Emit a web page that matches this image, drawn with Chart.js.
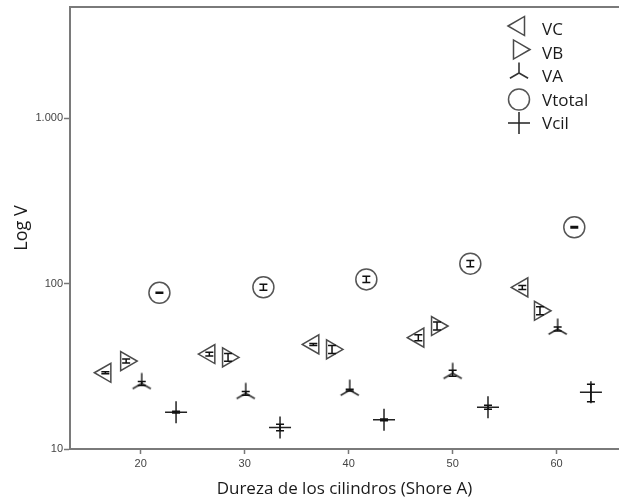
<!DOCTYPE html>
<html>
<head>
<meta charset="utf-8">
<script src="https://cdn.jsdelivr.net/npm/chart.js@4.4.1/dist/chart.umd.min.js"></script>
<style>
  body { margin: 0; background: #fff; }
  #wrap { width: 619px; height: 499px; }
</style>
</head>
<body>
<div id="wrap"><canvas id="chart"></canvas></div>
<script>
// hardness (Shore A) of each group, mean volume and error bar limits
var vcX = [16.6, 26.6, 36.6, 46.7, 56.7];
var vcMean = [28.9, 37.5, 42.9, 47.1, 94.8];
var vcLow = [28.5, 36.5, 42.3, 45.2, 92.2];
var vcHigh = [29.3, 38.5, 43.5, 49.1, 97.5];

var vbX = [18.6, 28.4, 38.4, 48.5, 58.4];
var vbMean = [34.0, 35.8, 40.0, 55.4, 68.5];
var vbLow = [33.1, 33.9, 37.8, 52.4, 64.8];
var vbHigh = [35.0, 37.8, 42.3, 58.6, 72.4];

var vaX = [20.1, 30.1, 40.1, 50.0, 60.1];
var vaMean = [24.9, 21.7, 22.7, 28.7, 53.1];
var vaLow = [24.2, 21.1, 22.4, 27.5, 51.7];
var vaHigh = [25.6, 22.3, 23.0, 29.9, 54.6];

var totalX = [21.8, 31.8, 41.7, 51.7, 61.7];
var totalMean = [88, 95, 106, 132, 219];
var totalLow = [87.4, 91.1, 101.6, 126.6, 217];
var totalHigh = [88.6, 99.1, 110.6, 137.7, 221];

var cilX = [23.4, 33.4, 43.4, 53.4, 63.3];
var cilMean = [16.7, 13.5, 15.0, 17.9, 22.0];
var cilLow = [16.5, 12.9, 14.8, 17.4, 19.3];
var cilHigh = [16.9, 14.1, 15.2, 18.4, 24.6];

var xTicks = [20, 30, 40, 50, 60];
var yTicks = [10, 100, 1000];

// upside-down "Y" marker used for VA
function makeTripod(size) {
  var c = document.createElement('canvas');
  c.width = size;
  c.height = size;
  var g = c.getContext('2d');
  var m = size / 2, r = size / 2 - 1.5;
  g.strokeStyle = '#333';
  g.lineWidth = 1.6;
  g.beginPath();
  g.moveTo(m, m); g.lineTo(m, m - r);
  g.moveTo(m, m); g.lineTo(m - r * 0.866, m + r * 0.5);
  g.moveTo(m, m); g.lineTo(m + r * 0.866, m + r * 0.5);
  g.stroke();
  return c;
}
var tripod = makeTripod(24);

function points(xs, ys) {
  return xs.map(function(x, i) { return { x: x, y: ys[i] }; });
}

function series(label, xs, mean, low, high, style) {
  return Object.assign({
    label: label,
    data: points(xs, mean),
    errLow: low,
    errHigh: high,
    pointRadius: 11,
    pointBorderWidth: 1.5,
    pointBorderColor: '#4a4a4a',
    pointBackgroundColor: 'rgba(255,255,255,0)',
    pointRotation: 0
  }, style);
}

var datasets = [
  series('VC', vcX, vcMean, vcLow, vcHigh, { pointStyle: 'triangle', pointRotation: -90 }),
  series('VB', vbX, vbMean, vbLow, vbHigh, { pointStyle: 'triangle', pointRotation: 90 }),
  series('VA', vaX, vaMean, vaLow, vaHigh, { pointStyle: tripod }),
  series('Vtotal', totalX, totalMean, totalLow, totalHigh, { pointStyle: 'circle', pointRadius: 10.5, pointBorderColor: '#555' }),
  series('Vcil', cilX, cilMean, cilLow, cilHigh, { pointStyle: 'cross', pointBorderColor: '#222' })
];

// vertical error bars with small caps, drawn on top of the markers
var errorBars = {
  id: 'errorBars',
  afterDatasetsDraw: function(chart) {
    var ctx = chart.ctx;
    var yScale = chart.scales.y;
    ctx.save();
    ctx.strokeStyle = '#111';
    ctx.lineWidth = 1.5;
    chart.data.datasets.forEach(function(ds, di) {
      var meta = chart.getDatasetMeta(di);
      meta.data.forEach(function(pt, i) {
        var yl = yScale.getPixelForValue(ds.errLow[i]);
        var yh = yScale.getPixelForValue(ds.errHigh[i]);
        ctx.beginPath();
        ctx.moveTo(pt.x, yl); ctx.lineTo(pt.x, yh);
        ctx.moveTo(pt.x - 4, yl); ctx.lineTo(pt.x + 4, yl);
        ctx.moveTo(pt.x - 4, yh); ctx.lineTo(pt.x + 4, yh);
        ctx.stroke();
      });
    });
    ctx.restore();
  }
};

// top frame line and the marker legend in the upper right corner
var frameAndLegend = {
  id: 'frameAndLegend',
  afterDraw: function(chart) {
    var ctx = chart.ctx;
    var area = chart.chartArea;
    ctx.save();
    ctx.strokeStyle = '#7a7a7a';
    ctx.lineWidth = 2;
    ctx.beginPath();
    ctx.moveTo(area.left, area.top);
    ctx.lineTo(area.right, area.top);
    ctx.stroke();

    var lx = area.right - 100;
    ctx.font = '17px "Open Sans"';
    ctx.textBaseline = 'alphabetic';
    ctx.textAlign = 'left';
    chart.data.datasets.forEach(function(ds, i) {
      var ty = area.top + 22 + i * 23.5;
      var sy = i < 3 ? ty - 3 : ty;
      ctx.strokeStyle = ds.pointBorderColor;
      ctx.fillStyle = 'rgba(255,255,255,0)';
      ctx.lineWidth = ds.pointBorderWidth;
      Chart.helpers.drawPoint(ctx, {
        pointStyle: ds.pointStyle,
        rotation: ds.pointRotation,
        radius: ds.pointRadius,
        borderWidth: ds.pointBorderWidth
      }, lx, sy);
      ctx.fillStyle = '#1a1a1a';
      ctx.fillText(ds.label, lx + 23, ty + 6);
    });
    ctx.restore();
  }
};

function thousands(v) {
  return String(v).replace(/\B(?=(\d{3})+(?!\d))/g, '.');
}

// keep the plot frame flush with the layout padding
function noEdgePadding(s) {
  s.paddingTop = 0;
  s.paddingBottom = 0;
  s.paddingLeft = 0;
  s.paddingRight = 0;
}

new Chart(document.getElementById('chart'), {
  type: 'scatter',
  data: { datasets: datasets },
  options: {
    responsive: true,
    maintainAspectRatio: false,
    animation: false,
    layout: { autoPadding: false, padding: { top: 7, right: 0, left: 0, bottom: 0 } },
    plugins: { legend: { display: false }, tooltip: { enabled: false } },
    scales: {
      x: {
        type: 'linear',
        min: 13.2,
        max: 66,
        afterBuildTicks: function(s) { s.ticks = xTicks.map(function(v) { return { value: v }; }); },
        afterFit: function(s) { s.height = 50; noEdgePadding(s); },
        grid: { drawOnChartArea: false, tickLength: 5, tickWidth: 1.5, tickColor: '#777' },
        border: { color: '#7a7a7a', width: 2 },
        ticks: { color: '#444', font: { family: 'Liberation Sans', size: 11 }, padding: 3, maxRotation: 0 },
        title: {
          display: true,
          text: 'Dureza de los cilindros (Shore A)',
          color: '#1a1a1a',
          font: { family: 'Open Sans', size: 17 },
          padding: { top: 0, bottom: 0 }
        }
      },
      y: {
        type: 'logarithmic',
        min: 10,
        max: 4700,
        afterBuildTicks: function(s) { s.ticks = yTicks.map(function(v) { return { value: v }; }); },
        afterFit: function(s) { s.width = 70; noEdgePadding(s); },
        grid: { drawOnChartArea: false, tickLength: 6, tickWidth: 1.5, tickColor: '#777' },
        border: { color: '#7a7a7a', width: 2 },
        ticks: { color: '#444', font: { family: 'Liberation Sans', size: 11 }, padding: 1, callback: function(v) { return thousands(v); } },
        title: {
          display: true,
          text: 'Log V',
          color: '#1a1a1a',
          font: { family: 'Open Sans', size: 18 },
          padding: { top: 11, bottom: 0 }
        }
      }
    }
  },
  plugins: [errorBars, frameAndLegend]
});
</script>
</body>
</html>
